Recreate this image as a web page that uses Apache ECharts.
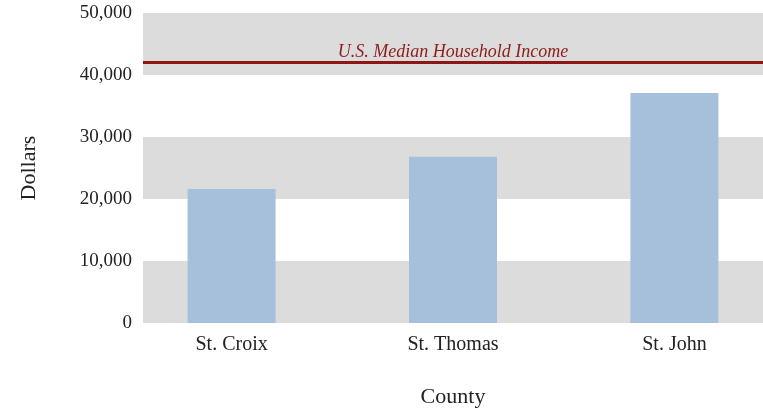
<!DOCTYPE html>
<html>
<head>
<meta charset="utf-8">
<script src="https://cdn.jsdelivr.net/npm/echarts@6/dist/echarts.min.js"></script>
<style>
  html, body { margin: 0; padding: 0; background: #fff; }
  #chart-container { width: 763px; height: 410px; }
</style>
</head>
<body>
<div id="chart-container"></div>
<script>
var counties = ["St. Croix", "St. Thomas", "St. John"];
var income = [21600, 26800, 37100];
var usMedian = 41994;
var yTicks = [0, 10000, 20000, 30000, 40000, 50000];

var dom = document.getElementById("chart-container");
var myChart = echarts.init(dom, null, { renderer: "canvas" });
var font = "Liberation Serif";
var option;

option = {
  animation: false,
  textStyle: { fontFamily: font },
  grid: {
    left: 143,
    right: 0,
    top: 13,
    bottom: 87,
    containLabel: false,
    outerBoundsMode: "none"
  },
  xAxis: {
    type: "value",
    min: -0.4,
    max: 2.4,
    name: "County",
    nameLocation: "middle",
    nameGap: 63,
    nameTextStyle: { fontFamily: font, fontSize: 22, color: "#222" },
    axisLine: { show: false },
    axisTick: { show: false },
    splitLine: { show: false },
    axisLabel: {
      customValues: [0, 1, 2],
      margin: 12,
      fontFamily: font,
      fontSize: 20,
      color: "#222",
      formatter: function (v) { return counties[Math.round(v)]; }
    }
  },
  yAxis: {
    type: "value",
    min: yTicks[0],
    max: yTicks[yTicks.length - 1],
    interval: 10000,
    name: "Dollars",
    nameLocation: "middle",
    nameGap: 103,
    nameTextStyle: { fontFamily: font, fontSize: 22, color: "#222" },
    axisLine: { show: false },
    axisTick: { show: false },
    splitLine: { show: false },
    splitArea: {
      show: true,
      areaStyle: { color: ["#dcdcdc", "#ffffff"] }
    },
    axisLabel: {
      margin: 11,
      fontFamily: font,
      fontSize: 19,
      color: "#222",
      formatter: function (v) { return v.toLocaleString("en-US"); }
    }
  },
  series: [
    {
      type: "bar",
      barWidth: 88,
      itemStyle: { color: "#a6c0db" },
      data: income.map(function (v, i) { return [i, v]; }),
      markLine: {
        symbol: "none",
        silent: true,
        lineStyle: { color: "#8e1616", width: 3, type: "solid" },
        label: {
          position: "insideMiddleTop",
          formatter: "U.S. Median Household Income",
          fontFamily: font,
          fontStyle: "italic",
          fontSize: 18,
          color: "#8e1c1c",
          distance: 1
        },
        data: [{ yAxis: usMedian }]
      }
    }
  ]
};

myChart.setOption(option);
window.addEventListener("resize", myChart.resize);
</script>
</body>
</html>
